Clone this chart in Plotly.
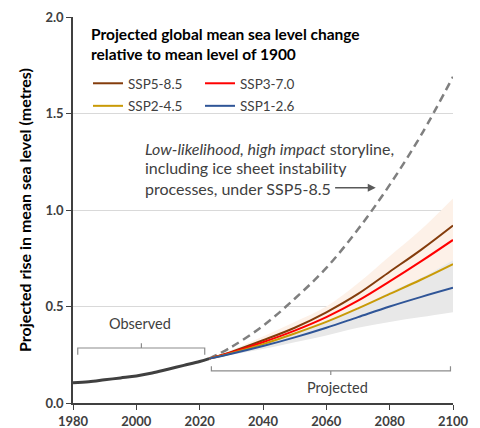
import plotly.graph_objects as go

# ---------------- data ----------------
obs_years = [1980, 1985, 1990, 1995, 2000, 2005, 2010, 2015, 2020, 2023]
obs_vals = [0.105, 0.11, 0.12, 0.13, 0.14, 0.155, 0.175, 0.195, 0.215, 0.23]

proj_years = [2023, 2030, 2040, 2050, 2060, 2070, 2080, 2090, 2100]
ssp585 = [0.23, 0.265, 0.325, 0.39, 0.47, 0.565, 0.68, 0.795, 0.92]
ssp370 = [0.23, 0.262, 0.315, 0.375, 0.445, 0.53, 0.63, 0.735, 0.845]
ssp245 = [0.23, 0.258, 0.305, 0.36, 0.42, 0.49, 0.565, 0.64, 0.72]
ssp126 = [0.23, 0.255, 0.295, 0.34, 0.39, 0.445, 0.50, 0.55, 0.597]

# low-likelihood high-impact storyline (SSP5-8.5)
lhi_vals = [0.23, 0.29, 0.40, 0.54, 0.70, 0.90, 1.13, 1.39, 1.69]

# likely ranges
band585_hi = [0.23, 0.275, 0.345, 0.42, 0.50, 0.62, 0.76, 0.90, 1.06]
band126_hi = [0.23, 0.262, 0.31, 0.365, 0.425, 0.495, 0.575, 0.65, 0.74]
band126_lo = [0.23, 0.25, 0.28, 0.315, 0.35, 0.39, 0.42, 0.445, 0.47]

x_ticks = [1980, 2000, 2020, 2040, 2060, 2080, 2100]
y_ticks = [0.0, 0.5, 1.0, 1.5, 2.0]
y_tick_text = ["0.0", "0.5", "1.0", "1.5", "2.0"]

FONT = "Lato"
TXT = "#404040"

fig = go.Figure()

# orange band (SSP5-8.5 range)
fig.add_trace(go.Scatter(x=proj_years, y=band126_hi, mode="lines", line=dict(width=0, shape="spline"),
                         showlegend=False, hoverinfo="skip"))
fig.add_trace(go.Scatter(x=proj_years, y=band585_hi, mode="lines", line=dict(width=0, shape="spline"),
                         fill="tonexty", fillcolor="#fdf1e8", showlegend=False, hoverinfo="skip"))
# grey band (SSP1-2.6 range)
fig.add_trace(go.Scatter(x=proj_years, y=band126_lo, mode="lines", line=dict(width=0, shape="spline"),
                         showlegend=False, hoverinfo="skip"))
fig.add_trace(go.Scatter(x=proj_years, y=band126_hi, mode="lines", line=dict(width=0, shape="spline"),
                         fill="tonexty", fillcolor="#e8e8e8", showlegend=False, hoverinfo="skip"))

# dashed storyline
fig.add_trace(go.Scatter(x=proj_years, y=lhi_vals, mode="lines",
                         line=dict(color="#7f7f7f", width=2.5, dash="8px,5px", shape="spline"),
                         showlegend=False))

# observed
fig.add_trace(go.Scatter(x=obs_years, y=obs_vals, mode="lines",
                         line=dict(color="#404040", width=3, shape="spline"), showlegend=False))

series = [
    ("SSP5-8.5", ssp585, "#843c0c", "legend"),
    ("SSP3-7.0", ssp370, "#ff0000", "legend2"),
    ("SSP2-4.5", ssp245, "#c99a06", "legend"),
    ("SSP1-2.6", ssp126, "#2f5597", "legend2"),
]
for name, vals, col, leg in series:
    fig.add_trace(go.Scatter(x=proj_years, y=vals, mode="lines", name=name,
                             line=dict(color=col, width=2, shape="spline"),
                             legend=leg, legendgroup=name))

# brackets
br = "#8c8c8c"
fig.add_shape(type="path", path="M 1981.5,0.25 L 1981.5,0.285 L 2021.6,0.285 L 2021.6,0.25",
              line=dict(color=br, width=1.2), layer="above")
fig.add_shape(type="line", x0=2001.6, x1=2001.6, y0=0.285, y1=0.31, line=dict(color=br, width=1.2))
fig.add_shape(type="path", path="M 2023.7,0.19 L 2023.7,0.166 L 2099.2,0.166 L 2099.2,0.19",
              line=dict(color=br, width=1.2), layer="above")
fig.add_shape(type="line", x0=2061.4, x1=2061.4, y0=0.166, y1=0.145, line=dict(color=br, width=1.2))

anns = []
anns.append(dict(x=2001, y=0.41, xref="x", yref="y", text="Observed", showarrow=False,
                 font=dict(family=FONT, size=14.5, color=TXT)))
anns.append(dict(x=2063.6, y=0.078, xref="x", yref="y", text="Projected", showarrow=False,
                 font=dict(family=FONT, size=14.5, color=TXT)))
# title
for i, t in enumerate(["Projected global mean sea level change", "relative to mean level of 1900"]):
    anns.append(dict(x=89, y=34 + 19.5 * i, xref="paper", yref="paper", text="<b>%s</b>" % t,
                     showarrow=False, xanchor="left", yanchor="middle",
                     font=dict(family=FONT, size=15.5, color="#000000")))
# storyline text
lines = ["<i>Low-likelihood, high impact</i> storyline,",
         "including ice sheet instability",
         "processes, under SSP5-8.5"]
for i, t in enumerate(lines):
    anns.append(dict(x=143, y=148 + 20 * i, text=t, showarrow=False, xanchor="left", yanchor="middle",
                     font=dict(family=FONT, size=16, color=TXT)))
# arrow
anns.append(dict(x=2075.6, y=1.115, ax=2062.3, ay=1.115, xref="x", yref="y", axref="x", ayref="y",
                 text="", showarrow=True, arrowhead=2, arrowsize=1, arrowwidth=1.6, arrowcolor="#595959"))

# convert pixel-positioned annotations to paper coords
L, R, T, B = 73, 27, 17, 25
W, H = 480, 428
pw, ph = W - L - R, H - T - B
for a in anns:
    if a.get("xref") != "x":
        a["x"] = (a["x"] - L) / pw
        a["y"] = (H - B - a["y"]) / ph
        a["xref"] = "paper"
        a["yref"] = "paper"

fig.update_layout(
    width=W, height=H,
    margin=dict(l=L, r=R, t=T, b=B),
    plot_bgcolor="white", paper_bgcolor="white",
    font=dict(family=FONT, color=TXT),
    annotations=anns,
    legend=dict(x=(88 - L) / pw, y=(H - B - 68) / ph, xanchor="left", yanchor="top",
                font=dict(family=FONT, size=13.5, color=TXT), bgcolor="rgba(0,0,0,0)",
                tracegroupgap=2, itemwidth=30),
    legend2=dict(x=(200 - L) / pw, y=(H - B - 68) / ph, xanchor="left", yanchor="top",
                 font=dict(family=FONT, size=13.5, color=TXT), bgcolor="rgba(0,0,0,0)",
                 tracegroupgap=2, itemwidth=30),
    xaxis=dict(range=[1980, 2100], tickvals=x_ticks, ticks="outside", ticklen=5, tickwidth=1.2,
               tickcolor=TXT, showline=True, linecolor=TXT, linewidth=1.5, showgrid=False,
               zeroline=False, tickfont=dict(family=FONT, size=13, color=TXT, weight="bold"),
               ticklabelstandoff=1, automargin=False),
    yaxis=dict(range=[0, 2.0], tickvals=y_ticks, ticktext=y_tick_text, ticks="outside", ticklen=5,
               tickwidth=1.2, tickcolor=TXT, showline=True, linecolor=TXT, linewidth=1.5,
               showgrid=True, gridcolor="#d9d9d9", gridwidth=1, zeroline=False, automargin=False,
               tickfont=dict(family=FONT, size=13, color=TXT, weight="bold"),
               title=dict(text="<b>Projected rise in mean sea level (metres)</b>",
                          font=dict(family=FONT, size=16, color="#000000"), standoff=10)),
)

fig.write_html("out.html", config={"displayModeBar": False},
               post_script="document.body.style.margin='0';document.body.style.overflow='hidden';")
